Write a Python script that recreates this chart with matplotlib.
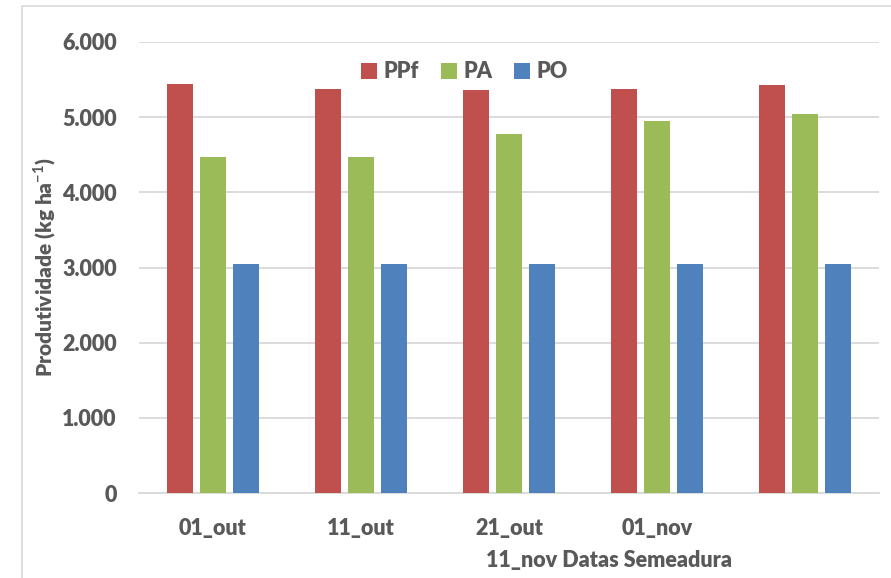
import numpy as np
import matplotlib.pyplot as plt
from matplotlib.patches import Rectangle

plt.rcParams['font.family'] = ['Lato', 'DejaVu Sans']
plt.rcParams['mathtext.fontset'] = 'custom'
plt.rcParams['mathtext.bf'] = 'Lato:bold'
plt.rcParams['mathtext.rm'] = 'Lato:bold'

datas = ['01_out', '11_out', '21_out', '01_nov', '']
ppf = [5440, 5375, 5360, 5370, 5425]
pa = [4465, 4465, 4770, 4950, 5040]
po = [3050, 3050, 3050, 3050, 3050]
series = ['PPf', 'PA', 'PO']
cores = ['#C0504D', '#9BBB59', '#4F81BD']

fig = plt.figure(figsize=(8.91, 5.78), dpi=100)
ax = fig.add_axes([139/891, 1-493/578, 740/891, 451/578])

x = np.arange(len(datas))
w = 0.176
step = 0.22
for i, (vals, nome, cor) in enumerate(zip([ppf, pa, po], series, cores)):
    ax.bar(x + (i-1)*step, vals, w, color=cor, label=nome, zorder=3)

ax.set_xlim(-0.5, len(datas)-0.5)
ax.set_ylim(0, 6000)
ax.set_yticks(np.arange(0, 6001, 1000))
ax.set_yticklabels(['0', '1.000', '2.000', '3.000', '4.000', '5.000', '6.000'])
ax.set_xticks(x)
ax.set_xticklabels(datas)
ax.grid(axis='y', color='#d9d9d9', linewidth=1.3, zorder=0)
for s in ['left', 'right', 'top']:
    ax.spines[s].set_visible(False)
ax.spines['bottom'].set_color('#d9d9d9')
ax.spines['bottom'].set_linewidth(1.3)
ax.tick_params(length=0, labelsize=15.5, labelcolor='#595959')
ax.tick_params(axis='y', pad=16)
ax.tick_params(axis='x', pad=18)
for t in ax.get_xticklabels() + ax.get_yticklabels():
    t.set_fontweight('heavy')

ax.set_ylabel('Produtividade (kg ha$^{-1}$)', fontsize=15, fontweight='heavy',
              color='#595959', labelpad=3)
fig.text(609/891, 1-560/578, '11_nov Datas Semeadura', ha='center', va='center',
         fontsize=15.5, fontweight='heavy', color='#595959')

leg = ax.legend(loc='upper center', bbox_to_anchor=(0.44, 1.0), ncol=3,
                frameon=False, handlelength=0.75, handleheight=0.75,
                handletextpad=0.3, columnspacing=1.0,
                prop={'size': 15.5, 'weight': 'heavy'})
for t in leg.get_texts():
    t.set_color('#595959')

fig.patches.append(Rectangle((22/891, -0.1), 1.2, 1-6/578+0.1, transform=fig.transFigure,
                             fill=False, edgecolor='#d9d9d9', linewidth=1.2))

fig.savefig('out.png', dpi=100)
